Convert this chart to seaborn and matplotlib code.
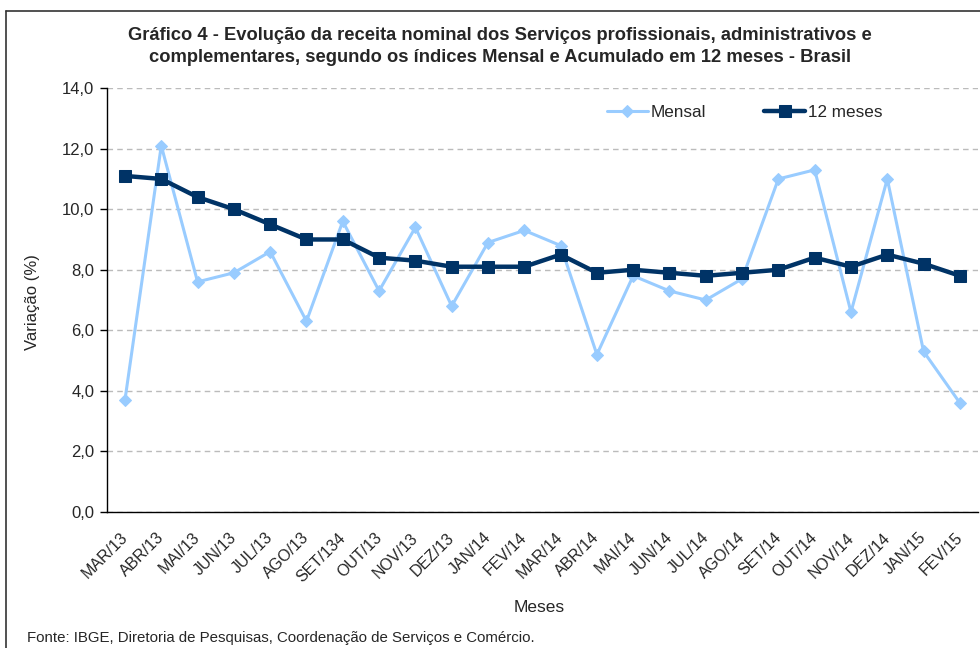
import matplotlib
matplotlib.use("Agg")
import matplotlib.pyplot as plt
import matplotlib.transforms as mtransforms
from matplotlib.ticker import FixedLocator, FuncFormatter
from matplotlib.lines import Line2D
import seaborn as sns
import pandas as pd

months = ["MAR/13", "ABR/13", "MAI/13", "JUN/13", "JUL/13", "AGO/13", "SET/134",
          "OUT/13", "NOV/13", "DEZ/13", "JAN/14", "FEV/14", "MAR/14", "ABR/14",
          "MAI/14", "JUN/14", "JUL/14", "AGO/14", "SET/14", "OUT/14", "NOV/14",
          "DEZ/14", "JAN/15", "FEV/15"]
mensal = [3.7, 12.1, 7.6, 7.9, 8.6, 6.3, 9.6, 7.3, 9.4, 6.8, 8.9, 9.3, 8.8, 5.2,
          7.8, 7.3, 7.0, 7.7, 11.0, 11.3, 6.6, 11.0, 5.3, 3.6]
doze_meses = [11.1, 11.0, 10.4, 10.0, 9.5, 9.0, 9.0, 8.4, 8.3, 8.1, 8.1, 8.1, 8.5, 7.9,
              8.0, 7.9, 7.8, 7.9, 8.0, 8.4, 8.1, 8.5, 8.2, 7.8]
series_names = ["Mensal", "12 meses"]
y_ticks = [0, 2, 4, 6, 8, 10, 12, 14]
title_lines = ["Gráfico 4 - Evolução da receita nominal dos Serviços profissionais, administrativos e",
               "complementares, segundo os índices Mensal e Acumulado em 12 meses - Brasil"]
source = "Fonte: IBGE, Diretoria de Pesquisas, Coordenação de Serviços e Comércio."

sns.set_style("white")
plt.rcParams["font.family"] = ["Liberation Sans", "DejaVu Sans"]

pos = list(range(len(months)))
df_m = pd.DataFrame({"pos": pos, "val": mensal})
df_12 = pd.DataFrame({"pos": pos, "val": doze_meses})

fig = plt.figure(figsize=(9.8, 6.48), dpi=100)
ax = fig.add_axes([0.109, 0.21, 0.889, 0.654])

sns.lineplot(data=df_m, x="pos", y="val", ax=ax, color="#99CCFF", lw=2.2,
             marker="D", markersize=6, markeredgecolor="#99CCFF", label=series_names[0])
sns.lineplot(data=df_12, x="pos", y="val", ax=ax, color="#003366", lw=3.2,
             marker="s", markersize=9, markeredgecolor="#003366", label=series_names[1])

ax.set_xlim(-0.5, len(months) - 0.5)
ax.set_ylim(0, 14)
ax.yaxis.set_major_locator(FixedLocator(y_ticks))
ax.yaxis.set_major_formatter(FuncFormatter(lambda v, p: f"{v:.1f}".replace(".", ",")))
ax.grid(axis="y", color="#BBBBBB", linestyle=(0, (4, 3)), lw=1)
ax.set_axisbelow(True)

ax.set_xticks(pos)
ax.set_xticklabels(months, rotation=45, ha="right", rotation_mode="anchor", fontsize=11.5)
ax.tick_params(axis="x", which="major", length=0, pad=13)
ax.set_xticks([p - 0.5 for p in pos] + [len(months) - 0.5], minor=True)
ax.tick_params(axis="x", which="minor", length=5, width=1, color="black", direction="out")
ax.tick_params(axis="y", length=5, width=1, color="black", direction="out", labelsize=12,
               left=True, pad=4)
offset = mtransforms.ScaledTranslation(-5 / 100, 0, fig.dpi_scale_trans)
for lbl in ax.get_xticklabels():
    lbl.set_transform(lbl.get_transform() + offset)

for s in ["top", "right"]:
    ax.spines[s].set_visible(False)
for s in ["left", "bottom"]:
    ax.spines[s].set_color("black")
    ax.spines[s].set_linewidth(1)

ax.set_xlabel("Meses", fontsize=12.5)
ax.xaxis.label.set_va("center")
ax.xaxis.set_label_coords(0.496, -0.226)
ax.set_ylabel("Variação (%)", fontsize=12)
ax.yaxis.label.set_va("center")
ax.yaxis.set_label_coords(-0.085, 0.495)

ax.legend(loc="center", bbox_to_anchor=(0.732, 0.943), ncol=2, frameon=False,
          fontsize=12.3, columnspacing=3.4, handlelength=2.4, handletextpad=0.15)

fig.text(0.51, 1 - 35 / 648, title_lines[0], ha="center", va="center", fontsize=13.2, fontweight="bold")
fig.text(0.51, 1 - 58 / 648, title_lines[1], ha="center", va="center", fontsize=13.2, fontweight="bold")
fig.text(27 / 980, 1 - 638 / 648, source, ha="left", va="center", fontsize=10.8)

fig.add_artist(Line2D([6 / 980, 6 / 980], [0, 1 - 11 / 648], transform=fig.transFigure,
                      color="#333333", lw=1.2))
fig.add_artist(Line2D([6 / 980, 1], [1 - 11 / 648, 1 - 11 / 648], transform=fig.transFigure,
                      color="#333333", lw=1.2))

fig.savefig("out.png", dpi=100)
